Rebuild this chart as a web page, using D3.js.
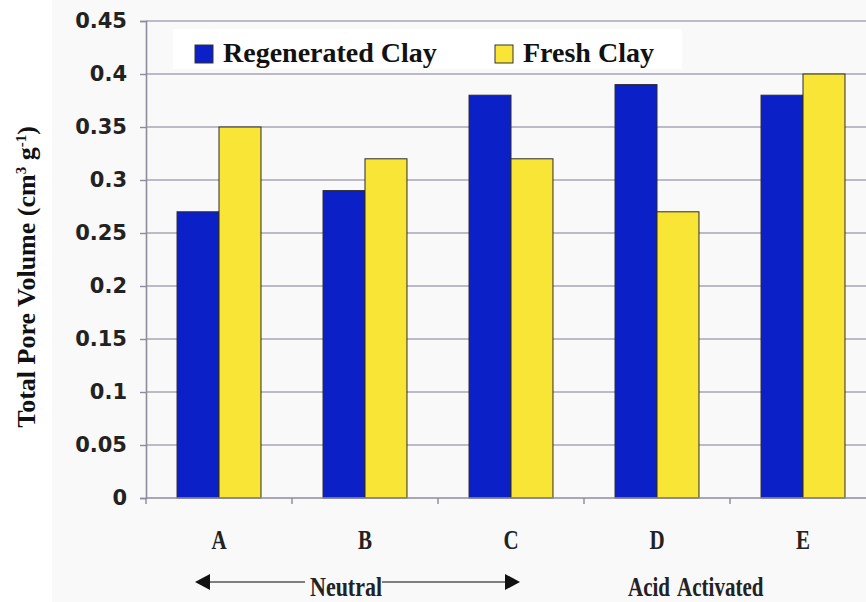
<!DOCTYPE html>
<html>
<head>
<meta charset="utf-8">
<script src="https://cdn.jsdelivr.net/npm/d3@7"></script>
<style>
  body { margin: 0; background: #ffffff; }
  svg { display: block; }
</style>
</head>
<body>
<svg id="chart" width="866" height="602"></svg>
<script>

// Data
const categories = ["A", "B", "C", "D", "E"];
const seriesNames = ["Regenerated Clay", "Fresh Clay"];
const regenerated = [0.27, 0.29, 0.38, 0.39, 0.38];
const fresh = [0.35, 0.32, 0.32, 0.27, 0.40];
const yTicks = [0, 0.05, 0.1, 0.15, 0.2, 0.25, 0.3, 0.35, 0.4, 0.45];
const groupLabels = ["Neutral", "Acid Activated"];

const colors = { "Regenerated Clay": "#0b20c6", "Fresh Clay": "#f9e536" };

const svg = d3.select("#chart");
const W = 866, H = 602;
const left = 146, zeroY = 498, topY = 21;
const serif = "'Liberation Serif', 'Times New Roman', serif";

// light backdrop of the plot region
svg.append("rect")
   .attr("x", 52).attr("y", 0)
   .attr("width", W - 52).attr("height", H)
   .attr("fill", "#f9f9f9");

// Scales
const y = d3.scaleLinear()
            .domain([0, 0.45])
            .range([zeroY, topY]);

const x0 = d3.scaleBand()
             .domain(categories)
             .range([left, left + 5 * 146])
             .paddingInner(0.425)
             .paddingOuter(0.2125);

const x1 = d3.scaleBand()
             .domain(seriesNames)
             .range([0, x0.bandwidth()]);

const rows = categories.map((c, i) => ({
	cat: c,
	values: [
		{ key: seriesNames[0], value: regenerated[i] },
		{ key: seriesNames[1], value: fresh[i] }
	]
}));

// Gridlines
svg.append("g")
   .selectAll("line")
   .data(yTicks.filter(d => d > 0))
   .enter()
   .append("line")
	   .attr("x1", left).attr("x2", W)
	   .attr("y1", d => y(d)).attr("y2", d => y(d))
	   .attr("stroke", "#a6a6b4")
	   .attr("stroke-width", 1.4);

// Y axis
const yAxis = d3.axisLeft(y)
                .tickValues(yTicks)
                .tickSize(6)
                .tickPadding(13)
                .tickFormat(d => String(+d.toFixed(2)));

const gy = svg.append("g")
              .attr("transform", "translate(" + left + ",0)")
              .call(yAxis);

gy.select(".domain").attr("stroke", "#8c8c9c").attr("stroke-width", 1.6);
gy.selectAll(".tick line").attr("stroke", "#8c8c9c").attr("stroke-width", 1.4);
gy.selectAll(".tick text")
  .attr("fill", "#222")
  .style("font-family", "'DejaVu Sans', sans-serif")
  .style("font-weight", "bold")
  .style("font-size", "21px");

// Legend box (covers the 0.4 gridline)
svg.append("rect")
   .attr("x", 173).attr("y", 29)
   .attr("width", 509).attr("height", 40)
   .attr("fill", "#ffffff");

// Bars
const groups = svg.append("g")
                  .selectAll("g")
                  .data(rows)
                  .enter()
                  .append("g")
                  .attr("transform", d => "translate(" + x0(d.cat) + ",0)");

groups.selectAll("rect")
      .data(d => d.values)
      .enter()
      .append("rect")
	      .attr("x", d => x1(d.key))
	      .attr("y", d => y(d.value))
	      .attr("width", x1.bandwidth())
	      .attr("height", d => zeroY - y(d.value))
	      .attr("fill", d => colors[d.key])
	      .attr("stroke", "#2a2a30")
	      .attr("stroke-width", 1);

// X axis line and ticks at band boundaries
svg.append("line")
   .attr("x1", left).attr("x2", W)
   .attr("y1", zeroY).attr("y2", zeroY)
   .attr("stroke", "#8c8c9c").attr("stroke-width", 1.6);

const gap = (x0.step() - x0.bandwidth()) / 2;
svg.append("g")
   .selectAll("line")
   .data(categories)
   .enter()
   .append("line")
	   .attr("x1", d => x0(d) - gap).attr("x2", d => x0(d) - gap)
	   .attr("y1", zeroY).attr("y2", zeroY + 6)
	   .attr("stroke", "#8c8c9c").attr("stroke-width", 1.4);

// Category labels (the originals are a tall, narrow bold serif)
svg.append("g")
   .selectAll("text")
   .data(categories)
   .enter()
   .append("text")
	   .attr("transform", d => "translate(" + (x0(d) + x0.bandwidth() / 2) + ",549) scale(1,1.25)")
	   .attr("text-anchor", "middle")
	   .style("font-family", serif)
	   .style("font-weight", "bold")
	   .style("font-size", "21px")
	   .attr("fill", "#222")
	   .text(d => d);

// Group annotations
const arrowY = 582;
const midA = x0("A") + x0.bandwidth() / 2;
const midC = x0("C") + x0.bandwidth() / 2;
const tipL = midA - 24, tipR = midC + 9;

svg.append("line")
   .attr("x1", tipL + 10).attr("x2", 305)
   .attr("y1", arrowY).attr("y2", arrowY)
   .attr("stroke", "#555").attr("stroke-width", 1.5);
svg.append("line")
   .attr("x1", 382).attr("x2", tipR - 10)
   .attr("y1", arrowY).attr("y2", arrowY)
   .attr("stroke", "#555").attr("stroke-width", 1.5);
svg.append("path")
   .attr("d", "M" + tipL + "," + arrowY + "L" + (tipL + 15) + "," + (arrowY - 8) + "L" + (tipL + 15) + "," + (arrowY + 8) + "Z")
   .attr("fill", "#111");
svg.append("path")
   .attr("d", "M" + tipR + "," + arrowY + "L" + (tipR - 15) + "," + (arrowY - 8) + "L" + (tipR - 15) + "," + (arrowY + 8) + "Z")
   .attr("fill", "#111");

svg.append("text")
   .attr("transform", "translate(310,596) scale(1,1.25)")
   .style("font-family", serif)
   .style("font-weight", "bold")
   .style("font-size", "22px")
   .attr("fill", "#222")
   .text(groupLabels[0]);

svg.append("text")
   .attr("transform", "translate(628,596) scale(1,1.25)")
   .style("font-family", serif)
   .style("font-weight", "bold")
   .style("font-size", "21px")
   .attr("fill", "#222")
   .attr("word-spacing", "3px")
   .text(groupLabels[1]);

// Legend
const legendX = [195, 495];
const legend = svg.append("g")
                  .selectAll("g")
                  .data(seriesNames)
                  .enter()
                  .append("g")
                  .attr("transform", (d, i) => "translate(" + legendX[i] + ",45)");

legend.append("rect")
      .attr("width", 18).attr("height", 18)
      .attr("fill", d => colors[d])
      .attr("stroke", "#333").attr("stroke-width", 1);

legend.append("text")
      .attr("x", 28).attr("y", 17)
      .style("font-family", serif)
      .style("font-weight", "bold")
      .style("font-size", "28px")
      .attr("fill", "#111")
      .text(d => d);

// Y title
const yTitle = svg.append("text")
                  .attr("transform", "translate(35,277) rotate(-90)")
                  .attr("text-anchor", "middle")
                  .style("font-family", serif)
                  .style("font-weight", "bold")
                  .style("font-size", "26px")
                  .attr("fill", "#111");
yTitle.append("tspan").text("Total Pore Volume (cm");
yTitle.append("tspan").attr("dy", -9).style("font-size", "15px").text("3");
yTitle.append("tspan").attr("dy", 9).text(" g");
yTitle.append("tspan").attr("dy", -9).style("font-size", "15px").text("-1");
yTitle.append("tspan").attr("dy", 9).text(")");

</script>
</body>
</html>
